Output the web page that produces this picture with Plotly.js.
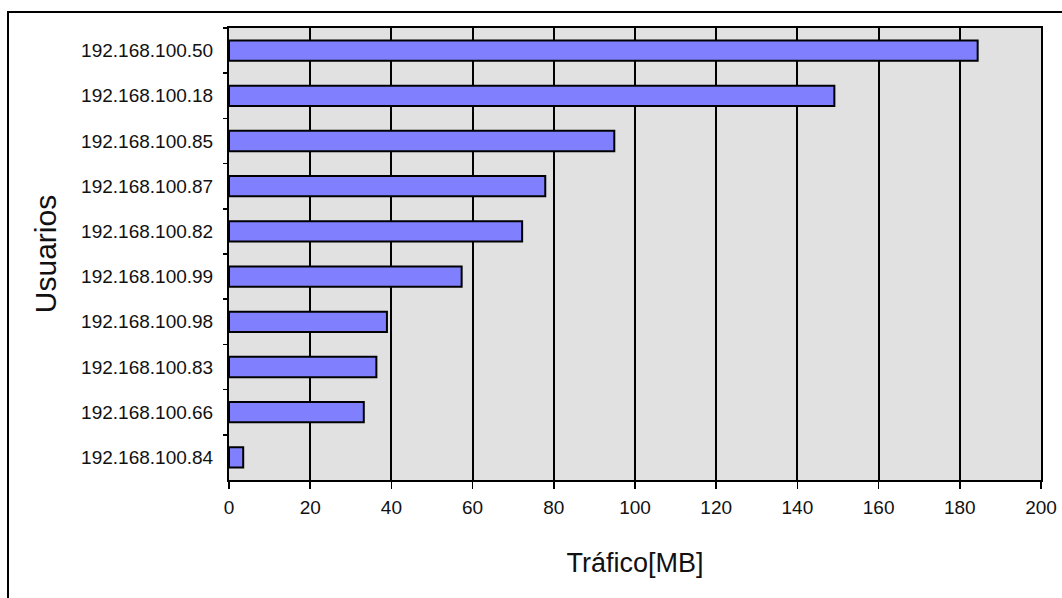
<!DOCTYPE html>
<html>
<head>
<meta charset="utf-8">
<script src="https://cdn.plot.ly/plotly-3.0.1.min.js"></script>
<style>
  html, body { margin: 0; padding: 0; background: #fff; overflow: hidden; }
  #wrap { position: relative; width: 1062px; height: 598px; }
  #chart { position: absolute; left: 0; top: 0; width: 1062px; height: 598px; }
  #frame { position: absolute; left: 7px; top: 11px; right: -10px; bottom: -10px;
           border: 2px solid #000; pointer-events: none; }
</style>
</head>
<body>
<div id="wrap">
  <div id="chart"></div>
  <div id="frame"></div>
</div>
<script>
// Data (top to bottom as shown)
const users = [
  "192.168.100.50",
  "192.168.100.18",
  "192.168.100.85",
  "192.168.100.87",
  "192.168.100.82",
  "192.168.100.99",
  "192.168.100.98",
  "192.168.100.83",
  "192.168.100.66",
  "192.168.100.84"
];
const trafficMB = [184.4, 149.1, 94.9, 77.9, 72.2, 57.3, 38.9, 36.3, 33.2, 3.5];
const xTickVals = [0, 20, 40, 60, 80, 100, 120, 140, 160, 180, 200];
const xTitle = "Tráfico[MB]";
const yTitle = "Usuarios";

const FONT = '"Liberation Sans", Arial, sans-serif';

const trace = {
  type: 'bar',
  orientation: 'h',
  x: trafficMB,
  y: users,
  marker: { color: '#8080ff', line: { color: '#000', width: 2 } },
  hoverinfo: 'skip'
};

const layout = {
  width: 1062,
  height: 598,
  margin: { l: 229, r: 21, t: 28, b: 118, pad: 0 },
  paper_bgcolor: 'rgba(0,0,0,0)',
  plot_bgcolor: '#e1e1e1',
  bargap: 0.55,
  showlegend: false,
  font: { family: FONT, color: '#111' },
  xaxis: {
    range: [0, 200],
    tickvals: xTickVals,
    ticktext: xTickVals.map(String),
    ticks: 'outside',
    ticklen: 7,
    tickwidth: 1.5,
    tickcolor: '#000',
    tickfont: { family: FONT, size: 19, color: '#111' },
    ticklabelstandoff: 2,
    showgrid: true,
    gridcolor: '#000',
    gridwidth: 2,
    zeroline: false,
    showline: true,
    linecolor: '#000',
    linewidth: 2,
    mirror: true,
    fixedrange: true,
    title: { text: xTitle, font: { family: FONT, size: 27, color: '#111' }, standoff: 36 }
  },
  yaxis: {
    type: 'category',
    autorange: 'reversed',
    tickson: 'boundaries',
    ticks: 'outside',
    ticklen: 4,
    tickwidth: 1.5,
    tickcolor: '#000',
    tickfont: { family: FONT, size: 19, color: '#111' },
    ticklabelstandoff: 10,
    showgrid: false,
    zeroline: false,
    showline: true,
    linecolor: '#000',
    linewidth: 2,
    mirror: true,
    fixedrange: true,
    title: { text: yTitle, font: { family: FONT, size: 30, color: '#111' }, standoff: 16 }
  }
};

Plotly.newPlot('chart', [trace], layout, { displayModeBar: false, staticPlot: true });
</script>
</body>
</html>
